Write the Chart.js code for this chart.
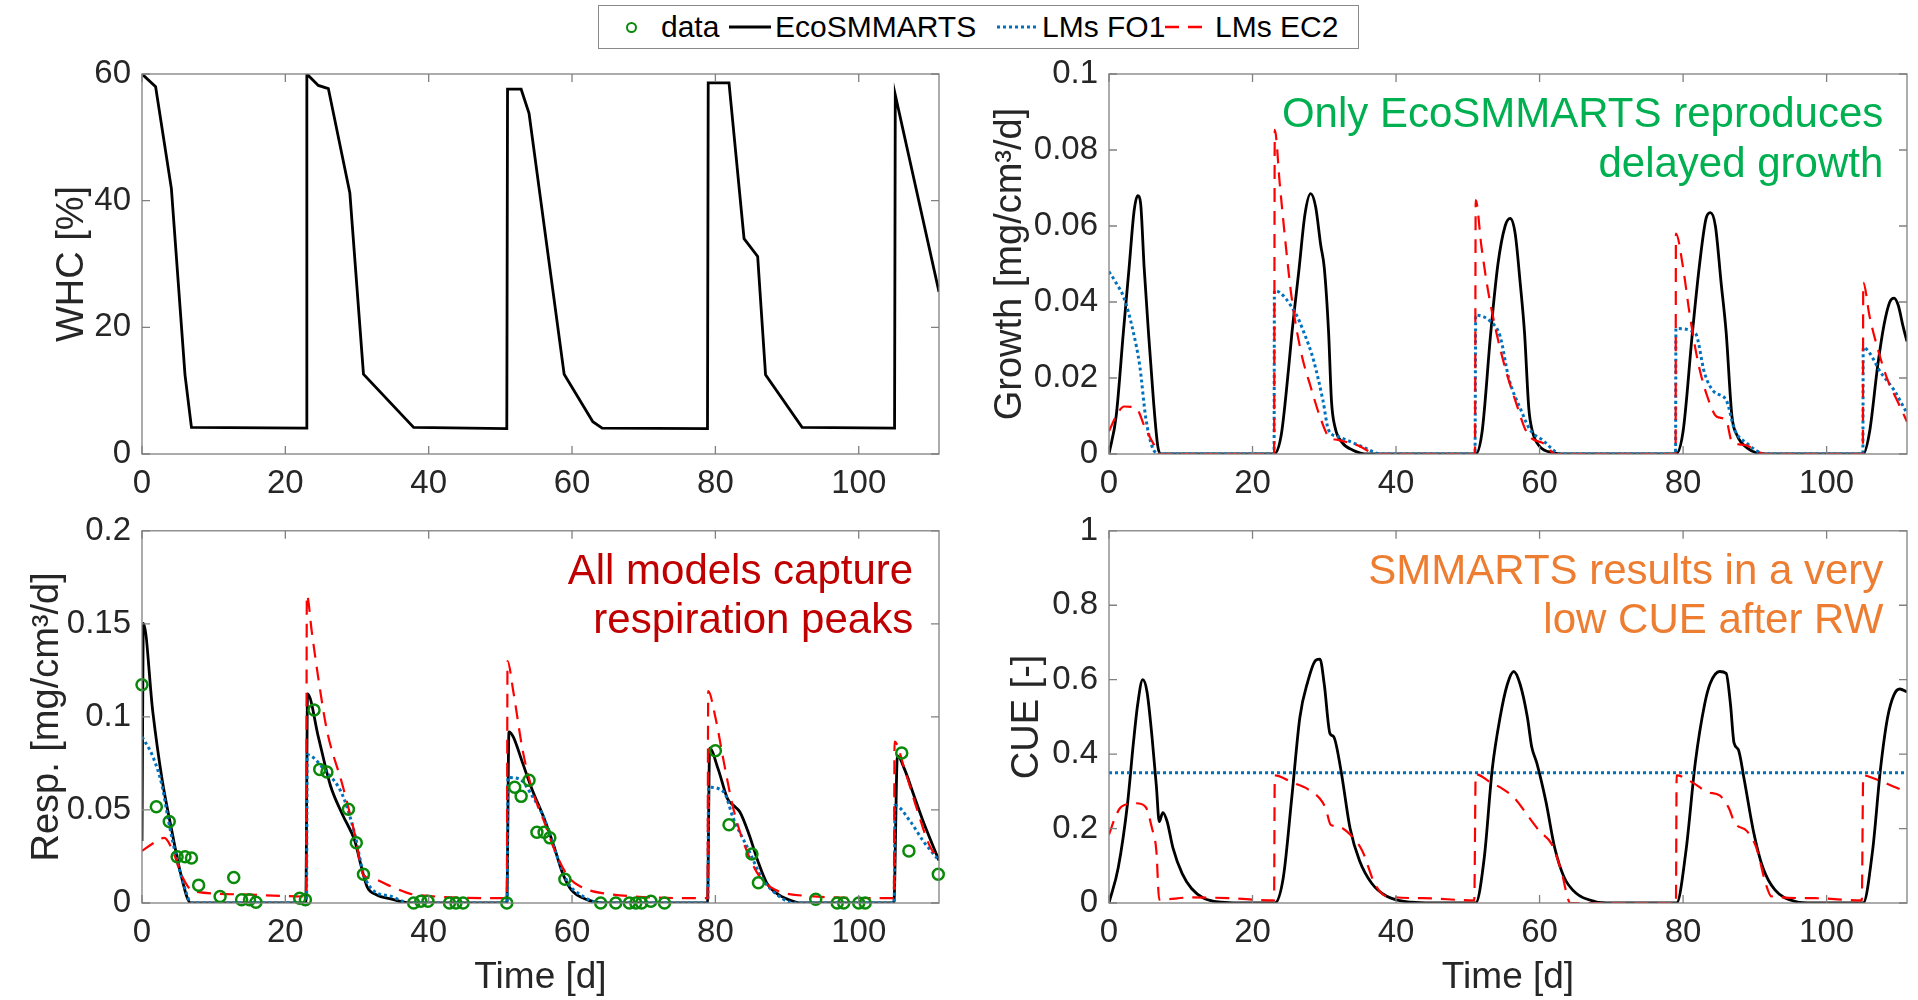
<!DOCTYPE html>
<html>
<head>
<meta charset="utf-8">
<script src="https://cdn.jsdelivr.net/npm/chart.js@4.4.1/dist/chart.umd.min.js"></script>
<style>
body{margin:0;background:#fff;width:1918px;height:1000px;overflow:hidden;position:relative;font-family:"Liberation Sans",Arial,Helvetica,sans-serif}
canvas{position:absolute}
#legend{position:absolute;left:598px;top:5px;width:759px;height:42px;border:1px solid #8a8a8a;background:#fff;z-index:2;color:#000;font-size:30px}
#legend .t{position:absolute;top:21px;transform:translateY(-50%);white-space:nowrap;line-height:1}
#legend svg{position:absolute;top:18px}
#legend .dot{position:absolute;left:27px;top:16px;width:7px;height:7px;border:2.5px solid #0a8a0a;border-radius:50%}
</style>
</head>
<body>
<div id="legend">
  <div class="dot"></div><span class="t" style="left:62px">data</span>
  <svg width="42" height="6" style="left:130px"><line x1="0" y1="3" x2="42" y2="3" stroke="#000" stroke-width="3"/></svg>
  <span class="t" style="left:176px">EcoSMMARTS</span>
  <svg width="42" height="6" style="left:398px"><line x1="0" y1="3" x2="42" y2="3" stroke="#0072BD" stroke-width="3" stroke-dasharray="3 3"/></svg>
  <span class="t" style="left:443px">LMs FO1</span>
  <svg width="42" height="6" style="left:566px"><line x1="0" y1="3" x2="42" y2="3" stroke="#FF0000" stroke-width="2.5" stroke-dasharray="14 9"/></svg>
  <span class="t" style="left:616px">LMs EC2</span>
</div>
<canvas id="whc" width="960" height="500" style="left:0;top:0"></canvas>
<canvas id="growth" width="958" height="500" style="left:960px;top:0"></canvas>
<canvas id="resp" width="960" height="500" style="left:0;top:500px"></canvas>
<canvas id="cue" width="958" height="500" style="left:960px;top:500px"></canvas>
<script>
// time axis
var tMax = 111.2;
var timeTicks = [0, 20, 40, 60, 80, 100];
var whcTicks = [0, 20, 40, 60];
var growthTicks = [0, 0.02, 0.04, 0.06, 0.08, 0.1];
var respTicks = [0, 0.05, 0.1, 0.15, 0.2];
var cueTicks = [0, 0.2, 0.4, 0.6, 0.8, 1];

// WHC [%]
var whcEco = [[0,60],[1.9,58],[4.1,41.9],[6.0,12.5],[6.9,4.2],[22.9,4.1],[23.0,60],[24.6,58.2],[26.0,57.7],[29.0,41.2],[30.9,12.6],[37.9,4.2],[50.9,4.0],[51.0,57.6],[52.9,57.6],[54.0,53.8],[58.9,12.6],[62.9,5.1],[64.2,4.1],[78.9,4.0],[79.0,58.6],[81.9,58.6],[84.0,34],[85.9,31.2],[87.0,12.5],[92.1,4.2],[105.0,4.1],[105.1,56.7],[111.2,25.6]];

// growth [mg/cm3/d]
var growthEco = [[0,0],[1,0.010],[2,0.032],[2.8,0.049],[3.5,0.064],[4,0.068],[4.4,0.066],[4.9,0.049],[5.5,0.032],[6.2,0.014],[6.8,0.002],[7.2,0],[23.0,0],
  [24,0.005],[25,0.022],[25.5,0.032],[26.5,0.049],[27.3,0.063],[28.1,0.0685],[28.8,0.065],[29.5,0.055],[30,0.049],[30.6,0.032],[31.0,0.014],[31.5,0.007],[32.5,0.003],[34,0.001],[36,0],[51.1,0],
  [52,0.006],[53.2,0.032],[54.2,0.05],[55.2,0.06],[55.9,0.062],[56.6,0.058],[57.3,0.045],[57.9,0.032],[58.5,0.012],[59,0.006],[60,0.002],[62,0.0003],[63,0],[79,0],
  [80,0.006],[81.3,0.032],[82.3,0.05],[83.2,0.062],[83.8,0.0635],[84.5,0.06],[85.3,0.045],[86,0.032],[86.8,0.01],[87.5,0.005],[89,0.0015],[91.5,0],[105.1,0],
  [106,0.006],[107.1,0.023],[108,0.034],[108.8,0.040],[109.4,0.041],[110,0.039],[110.6,0.034],[111.2,0.0296]];
var growthFO1 = [[0,0.048],[1,0.045],[2.1,0.041],[3.4,0.032],[4.3,0.023],[5.1,0.0098],[6.0,0.002],[7,0],[23.0,0],[23.05,0.043],[26,0.037],[27.2,0.0318],[28.5,0.0247],[29.8,0.0142],[30.6,0.0063],[31.9,0.0046],[35.3,0.0019],[38,0],
  [51.0,0],[51.1,0.0365],[53.2,0.0348],[54.5,0.031],[55.7,0.020],[57.4,0.0116],[58.7,0.0063],[60.4,0.0037],[63,0],
  [78.95,0],[79,0.033],[81.7,0.0318],[83,0.0212],[84.3,0.0164],[86,0.0142],[87.2,0.0063],[88.9,0.0028],[91.5,0],
  [105.05,0],[105.1,0.028],[107.7,0.021],[109.4,0.0168],[111.2,0.0107]];
var growthEC2 = [[0,0.006],[1,0.010],[2.1,0.0125],[3.8,0.012],[5,0.007],[6.4,0.002],[7,0],[23.0,0],[23.1,0.0853],[23.8,0.071],[24.7,0.0537],[25.5,0.0405],[26.8,0.0265],[28.1,0.0177],[29.4,0.0098],[30.6,0.0046],[31.9,0.0037],[34.5,0.0024],[37.4,0],
  [51.0,0],[51.1,0.0668],[51.9,0.0546],[52.8,0.0432],[54,0.0318],[55.3,0.022],[56.6,0.0142],[58.3,0.0054],[60.9,0.0024],[62.1,0],
  [78.95,0],[79,0.058],[80,0.049],[80.9,0.037],[82.1,0.024],[83.4,0.015],[84.7,0.0098],[86,0.0089],[86.8,0.0032],[88.5,0.0024],[91.5,0],
  [105.05,0],[105.1,0.0451],[106,0.0361],[107.3,0.0265],[108.5,0.0195],[109.8,0.0142],[111.2,0.0085]];

// respiration [mg/cm3/d]
var respData = [[0,0.1173],[2,0.0517],[3.8,0.0438],[4.9,0.0249],[6,0.0249],[6.9,0.0242],[7.9,0.0096],[10.9,0.0035],[12.8,0.0137],[13.9,0.0018],[15,0.0018],[15.9,0.0004],[22,0.0025],[22.8,0.0018],
  [24,0.1037],[24.8,0.0718],[25.8,0.0704],[28.8,0.0504],[29.9,0.0324],[30.9,0.0154],[37.9,0],[38.9,0.0009],[39.9,0.0009],[42.9,0],[43.8,0],[44.8,0],
  [50.9,0],[52,0.0622],[52.9,0.0573],[54,0.066],[55.1,0.038],[56.1,0.038],[56.9,0.035],[59,0.0128],[64,0],[66.1,0],[68,0],[68.9,0],[69.7,0],[71,0.0009],[72.9,0],
  [80,0.0818],[81.9,0.042],[85.1,0.0263],[86,0.0109],[94,0.002],[97,0],[97.9,0],[100,0],[100.9,0],
  [106,0.0806],[107,0.028],[111.1,0.0154]];
var respEco = [[0,0.0333],[0.2,0.1503],[1.5,0.103],[2.8,0.0665],[4.1,0.040],[5.4,0.0158],[6.8,0],[22.85,0],[23.1,0.1124],[24.6,0.0893],[26.3,0.063],[28,0.0473],[29.7,0.0333],[30.5,0.021],[31.4,0.0088],[32.7,0.0044],[34.8,0.0021],[37.3,0],
  [50.9,0],[51.2,0.092],[51.8,0.0893],[53.1,0.0753],[54.4,0.0613],[56.1,0.0455],[57.4,0.0315],[58.7,0.0158],[59.9,0.007],[62.1,0.0018],[64.2,0],
  [78.9,0],[79.2,0.0832],[80.4,0.0718],[81.7,0.056],[82.5,0.0525],[83.4,0.049],[84.7,0.0368],[85.9,0.0228],[87.2,0.0105],[88.5,0.0053],[90.2,0.0018],[91.9,0],
  [104.9,0],[105.4,0.0792],[106.4,0.0718],[107.7,0.0578],[109,0.0438],[111.2,0.0228]];
var respFO1 = [[0,0.0893],[1.5,0.0788],[2.8,0.063],[3.7,0.044],[4.9,0.0228],[6.2,0.0053],[6.8,0],[22.95,0],[23.05,0.0797],[25.4,0.0718],[28,0.0578],[29.7,0.0368],[30.9,0.0158],[32.2,0.007],[34.8,0.0035],[37.3,0],
  [50.95,0],[51.05,0.0674],[52.7,0.0665],[54.4,0.0578],[56.1,0.0455],[57.8,0.0263],[59.5,0.0105],[61.2,0.0044],[64,0],
  [78.95,0],[79.05,0.0622],[81.2,0.0595],[82.5,0.0455],[84.7,0.028],[86.4,0.014],[88.1,0.0061],[91,0],
  [104.95,0],[105.05,0.0525],[107.2,0.0438],[109,0.0333],[111.2,0.0228]];
var respEC2 = [[0,0.028],[1.5,0.032],[3.1,0.035],[4.5,0.026],[5.4,0.016],[6.8,0.007],[7.5,0.0061],[15,0.0045],[22.9,0.0035],[23.0,0.1655],[23.7,0.1454],[24.6,0.1208],[25.8,0.0928],[28,0.063],[29.7,0.0368],[30.9,0.0149],[32.2,0.0131],[34.8,0.0088],[38.2,0.0044],
  [50.9,0.0026],[51.0,0.13],[51.8,0.1138],[53.1,0.0823],[54.4,0.0613],[56.1,0.0438],[57.8,0.0263],[59.5,0.014],[61.2,0.0088],[64.2,0.0053],
  [78.9,0.0026],[79.0,0.1138],[80,0.0998],[81.2,0.0753],[82.5,0.0508],[84.2,0.0298],[85.9,0.0158],[87.6,0.0088],[91,0.0044],
  [104.9,0.0026],[105.0,0.0867],[106.4,0.0718],[108.1,0.0508],[109.8,0.0315],[111.2,0.0228]];

// CUE [-]
var cueEco = [[0,0],[1.3,0.096],[2.6,0.27],[3.4,0.43],[4.0,0.534],[4.7,0.6],[5.3,0.567],[6.0,0.445],[6.6,0.315],[7.0,0.219],[7.5,0.243],[8.1,0.219],[8.9,0.149],[10.2,0.079],[11.5,0.039],[13.2,0.013],[15.7,0.002],[18,0],
  [23.1,0],[24.3,0.07],[25.5,0.289],[26.6,0.499],[27.7,0.595],[28.8,0.652],[29.4,0.655],[30.0,0.587],[30.8,0.455],[31.3,0.447],[32.3,0.359],[33.6,0.2],[34.9,0.114],[36.6,0.053],[38.7,0.018],[42.1,0.002],[45,0],
  [51.1,0],[52.3,0.123],[53.4,0.359],[54.5,0.499],[55.5,0.587],[56.4,0.622],[57.3,0.587],[58.3,0.499],[58.9,0.42],[59.6,0.377],[60.9,0.271],[62.1,0.149],[63.4,0.07],[65.1,0.026],[67.7,0.004],[70,0],
  [79.1,0],[80.4,0.14],[81.7,0.377],[83,0.534],[83.8,0.591],[85.1,0.622],[86,0.617],[86.6,0.534],[87.1,0.43],[87.7,0.412],[88.5,0.333],[89.8,0.193],[91.1,0.096],[92.8,0.035],[95.7,0.004],[98,0],
  [105.1,0],[106.4,0.14],[107.5,0.359],[108.5,0.499],[109.4,0.56],[110.2,0.575],[111.2,0.567]];
var cueFO1 = [[0,0.35],[111.2,0.35]];
var cueEC2 = [[0,0.184],[0.9,0.232],[1.7,0.258],[3.8,0.268],[5.1,0.258],[6.0,0.2],[6.6,0.14],[7.0,0.009],[11.5,0.015],[16.6,0.013],[23.0,0.007],
  [23.1,0.343],[25.5,0.324],[27.7,0.306],[29.4,0.28],[30.2,0.254],[30.9,0.21],[31.9,0.206],[33.6,0.184],[35.3,0.14],[37,0.053],[38.7,0.018],[43.8,0.013],[50.9,0.007],
  [51.1,0.346],[53.2,0.324],[54.9,0.306],[56.6,0.28],[58.3,0.236],[60,0.193],[61.7,0.158],[63,0.088],[64.3,0],[79.0,0],
  [79.1,0.343],[81.3,0.324],[83.4,0.298],[85.1,0.289],[86.4,0.254],[87.2,0.215],[88.9,0.193],[90.2,0.149],[91.5,0.053],[92.3,0.018],[98.3,0.013],[104.9,0.007],
  [105.1,0.343],[106.8,0.333],[108.5,0.32],[111.2,0.298]];

var growthNote = ['Only EcoSMMARTS reproduces', 'delayed growth'];
var respNote = ['All models capture', 'respiration peaks'];
var cueNote = ['SMMARTS results in a very', 'low CUE after RW'];

var FONT = '"Liberation Sans", Arial, Helvetica, sans-serif';

function pts(a) {
  return a.map(function (p) { return {x: p[0], y: p[1]}; });
}

function eco(a, smooth) {
  return {data: pts(a), borderColor: '#000', borderWidth: 2.8, pointRadius: 0, fill: false, order: 3,
    cubicInterpolationMode: smooth ? 'monotone' : 'default', tension: 0};
}
function fo1(a) {
  return {data: pts(a), borderColor: '#0072BD', borderWidth: 3, borderDash: [3, 3], pointRadius: 0, fill: false, order: 2,
    cubicInterpolationMode: 'monotone'};
}
function ec2(a) {
  return {data: pts(a), borderColor: '#FF0000', borderWidth: 2.2, borderDash: [14, 9], pointRadius: 0, fill: false, order: 1,
    cubicInterpolationMode: 'monotone'};
}

// box with inward ticks and the panel note
var frame = {
  id: 'frame',
  afterDatasetsDraw: function (chart, args, o) {
    var ctx = chart.ctx, a = chart.chartArea, x = chart.scales.x, y = chart.scales.y;
    ctx.save();
    ctx.strokeStyle = '#808080';
    ctx.lineWidth = 1.3;
    ctx.strokeRect(a.left, a.top, a.right - a.left, a.bottom - a.top);
    ctx.beginPath();
    x.ticks.forEach(function (t) {
      var p = x.getPixelForValue(t.value);
      ctx.moveTo(p, a.bottom); ctx.lineTo(p, a.bottom - 8);
      ctx.moveTo(p, a.top); ctx.lineTo(p, a.top + 8);
    });
    y.ticks.forEach(function (t) {
      var p = y.getPixelForValue(t.value);
      ctx.moveTo(a.left, p); ctx.lineTo(a.left + 8, p);
      ctx.moveTo(a.right, p); ctx.lineTo(a.right - 8, p);
    });
    ctx.stroke();
    if (o.note) {
      ctx.font = '42px ' + FONT;
      ctx.fillStyle = o.note.color;
      ctx.textAlign = 'right';
      ctx.textBaseline = 'alphabetic';
      o.note.lines.forEach(function (s, i) {
        ctx.fillText(s, x.getPixelForValue(o.note.x), y.getPixelForValue(o.note.y[i]));
      });
    }
    ctx.restore();
  }
};

function panel(id, opt) {
  return new Chart(document.getElementById(id), {
    type: 'line',
    data: {datasets: opt.datasets},
    options: {
      responsive: false,
      animation: false,
      layout: {padding: opt.pad},
      plugins: {legend: {display: false}, tooltip: {enabled: false}, frame: {note: opt.note}},
      scales: {
        x: {
          type: 'linear', min: 0, max: tMax,
          grid: {display: false, drawTicks: false}, border: {display: false},
          afterBuildTicks: function (s) { s.ticks = timeTicks.map(function (v) { return {value: v}; }); },
          afterFit: function (s) { s.height = opt.xh; },
          ticks: {font: {family: FONT, size: 33}, color: '#262626', padding: 10, maxRotation: 0, autoSkip: false,
            callback: function (v) { return String(v); }},
          title: {display: !!opt.xTitle, text: 'Time [d]', font: {family: FONT, size: 37}, color: '#262626', padding: {top: 0, bottom: 0}}
        },
        y: {
          type: 'linear', min: opt.yTicks[0], max: opt.yTicks[opt.yTicks.length - 1],
          grid: {display: false, drawTicks: false}, border: {display: false},
          afterBuildTicks: function (s) { s.ticks = opt.yTicks.map(function (v) { return {value: v}; }); },
          afterFit: function (s) { s.width = opt.yw; },
          ticks: {font: {family: FONT, size: 33}, color: '#262626', padding: 11, autoSkip: false,
            callback: function (v) { return String(v); }},
          title: {display: true, text: opt.yTitle, font: {family: FONT, size: 38}, color: '#262626', padding: {top: opt.tp, bottom: 0}}
        }
      }
    },
    plugins: [frame]
  });
}

panel('whc', {
  datasets: [eco(whcEco, false)],
  yTicks: whcTicks, yTitle: 'WHC [%]', tp: 50, yw: 142, xh: 46,
  pad: {left: 0, right: 21, top: 74, bottom: 0}
});
panel('growth', {
  datasets: [eco(growthEco, true), fo1(growthFO1), ec2(growthEC2)],
  yTicks: growthTicks, yTitle: 'Growth [mg/cm\u00b3/d]', tp: 28, yw: 149, xh: 46,
  pad: {left: 0, right: 11, top: 74, bottom: 0},
  note: {lines: growthNote, color: '#00B050', x: 107.9, y: [0.0861, 0.0729]}
});
panel('resp', {
  datasets: [
    {data: pts(respData), showLine: false, pointStyle: 'circle', pointRadius: 5.5, pointBorderWidth: 2.5,
      pointBorderColor: '#0A8A0A', pointBackgroundColor: 'rgba(0,0,0,0)', borderColor: '#0A8A0A', order: 0, clip: false},
    eco(respEco, true), fo1(respFO1), ec2(respEC2)
  ],
  yTicks: respTicks, yTitle: 'Resp. [mg/cm\u00b3/d]', tp: 25, yw: 142, xh: 97, xTitle: true,
  pad: {left: 0, right: 21, top: 23, bottom: 0},
  note: {lines: respNote, color: '#C00000', x: 107.6, y: [0.1716, 0.1453]}
});
panel('cue', {
  datasets: [eco(cueEco, true), fo1(cueFO1), ec2(cueEC2)],
  yTicks: cueTicks, yTitle: 'CUE [-]', tp: 45, yw: 149, xh: 97, xTitle: true,
  pad: {left: 0, right: 11, top: 23, bottom: 0},
  note: {lines: cueNote, color: '#ED7D31', x: 107.9, y: [0.858, 0.726]}
});
</script>
</body>
</html>
